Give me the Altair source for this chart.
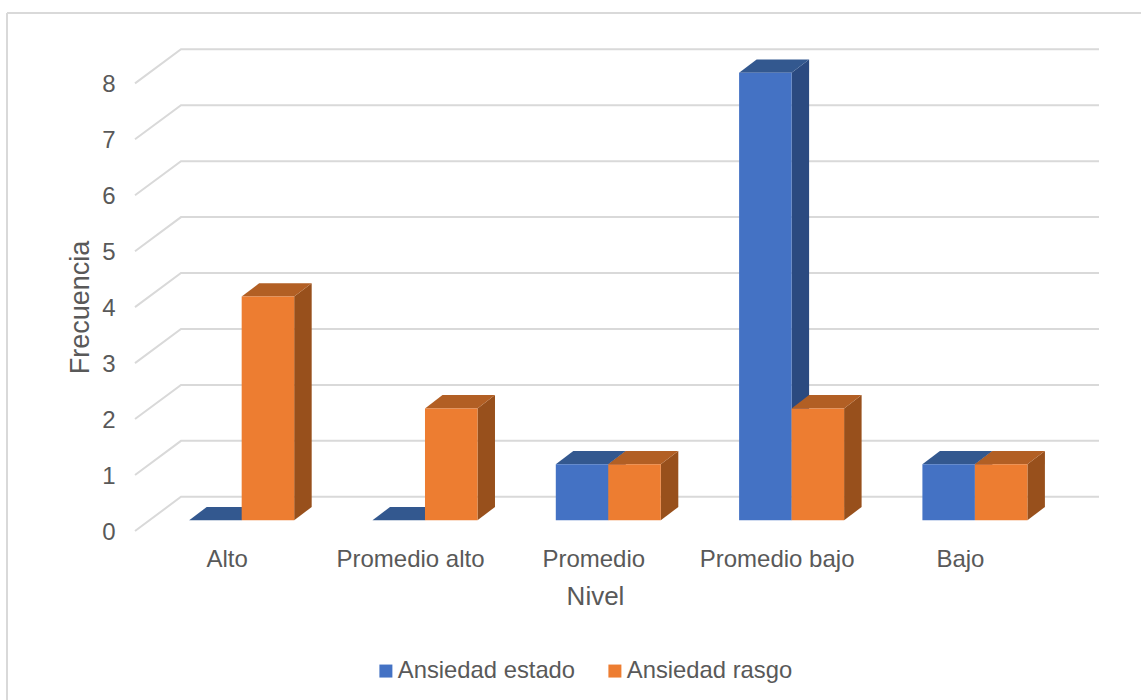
import altair as alt
import pandas as pd

# Survey results by level
niveles = ["Alto", "Promedio alto", "Promedio", "Promedio bajo", "Bajo"]
ansiedad_estado = [0, 0, 1, 8, 1]
ansiedad_rasgo = [4, 2, 1, 2, 1]
series = ["Ansiedad estado", "Ansiedad rasgo"]
niveles_y = [0, 1, 2, 3, 4, 5, 6, 7, 8]

FRONT = ["#4472C4", "#ED7D31"]
TOP = ["#33588F", "#B25F24"]
SIDE = ["#2B4A80", "#98501C"]
GRID = "#D9D9D9"
TEXT = "#595959"
FONT = "Liberation Sans"

# Oblique projection of the bars, expressed in axis units
BAR_W = 0.2864
DEPTH_X = 0.0955
DEPTH_Y = 0.238
WALL_Y = 0.42
WALL_X = -0.331
FLOOR_Y = -0.19

x_domain = [-0.582, 4.677]
x_scale = alt.Scale(domain=x_domain, nice=False, zero=False)
y_scale = alt.Scale(domain=[-0.191, 8.585], nice=False, zero=False)
color_scale = alt.Scale(domain=series, range=FRONT)

label_expr = "[" + ",".join(f"'{n}'" for n in niveles) + "][datum.value]"

x_axis = alt.Axis(
    values=list(range(len(niveles))),
    labelExpr=label_expr,
    title="Nivel",
    grid=False,
    domain=False,
    ticks=False,
    labelFont=FONT,
    labelFontSize=24,
    labelColor=TEXT,
    labelPadding=16,
    labelOffset=-15,
    labelFlush=False,
    labelOverlap=False,
    labelLimit=300,
    titleFont=FONT,
    titleFontSize=26,
    titleFontWeight="normal",
    titleColor=TEXT,
    titleX=460,
    titleY=65,
    titleBaseline="middle",
)
y_axis = alt.Axis(
    values=niveles_y,
    title="Frecuencia",
    grid=False,
    domain=False,
    ticks=False,
    labelFont=FONT,
    labelFontSize=24,
    labelColor=TEXT,
    labelPadding=20,
    labelOffset=12,
    labelBaseline="middle",
    titleFont=FONT,
    titleFontSize=27,
    titleFontWeight="normal",
    titleColor=TEXT,
    titleX=-55,
    titleY=267,
    titleAngle=270,
    titleBaseline="middle",
)
X = alt.X("x:Q", scale=x_scale, axis=x_axis)
Y = alt.Y("y:Q", scale=y_scale, axis=y_axis)


def faces(values, name, offset):
    front, side, top = [], [], []
    for i, v in enumerate(values):
        x0 = i + offset
        x1 = x0 + BAR_W
        front.append({"x": x0, "x2": x1, "y": v, "y2": 0, "serie": name})
        side.append({"id": i, "x": x1, "y": v, "y2": 0})
        side.append({"id": i, "x": x1 + DEPTH_X, "y": v + DEPTH_Y, "y2": DEPTH_Y})
        top.append({"id": i, "y": v, "x": x0, "x2": x1})
        top.append({"id": i, "y": v + DEPTH_Y, "x": x0 + DEPTH_X, "x2": x1 + DEPTH_X})
    return pd.DataFrame(front), pd.DataFrame(side), pd.DataFrame(top)


def bar_layers(values, k):
    front, side, top = faces(values, series[k], BAR_W * (k - 1))
    side_layer = alt.Chart(side).mark_area(orient="vertical", color=SIDE[k]).encode(
        x=X, y=Y, y2="y2:Q", detail="id:N"
    )
    top_layer = alt.Chart(top).mark_area(orient="horizontal", color=TOP[k]).encode(
        y=Y, x=X, x2="x2:Q", detail="id:N"
    )
    front_layer = alt.Chart(front).mark_rect().encode(
        x=X,
        x2="x2:Q",
        y=Y,
        y2="y2:Q",
        color=alt.Color(
            "serie:N",
            scale=color_scale,
            legend=alt.Legend(
                title=None,
                orient="none",
                legendX=239,
                legendY=619,
                direction="horizontal",
                symbolType="square",
                symbolSize=169,
                symbolStrokeWidth=0,
                labelFont=FONT,
                labelFontSize=23.8,
                labelColor=TEXT,
                labelOffset=0,
                columnPadding=27,
                labelLimit=300,
            ),
        ),
    )
    return [side_layer, top_layer, front_layer]


# Floor diagonals and back-wall lines, one polyline per axis level
grid_rows = []
for v in niveles_y:
    grid_rows.append({"nivel": v, "x": x_domain[0], "y": v + FLOOR_Y})
    grid_rows.append({"nivel": v, "x": WALL_X, "y": v + WALL_Y})
    grid_rows.append({"nivel": v, "x": x_domain[1], "y": v + WALL_Y})

grid = alt.Chart(pd.DataFrame(grid_rows)).mark_line(color=GRID, strokeWidth=2).encode(
    x=X, y=Y, detail="nivel:N"
)

# Outer frame: only its top and left edges fall inside the page
anchor = pd.DataFrame({"a": [0]})
frame_top = alt.Chart(anchor).mark_rule(color=GRID, strokeWidth=2).encode(
    x=alt.value(-128), x2=alt.value(1006), y=alt.value(-27)
)
frame_left = alt.Chart(anchor).mark_rule(color=GRID, strokeWidth=2).encode(
    x=alt.value(-128), y=alt.value(-27), y2=alt.value(660)
)

chart = alt.layer(
    frame_top,
    frame_left,
    grid,
    *bar_layers(ansiedad_estado, 0),
    *bar_layers(ansiedad_rasgo, 1),
).properties(
    width=964,
    height=491,
    padding={"left": 135, "top": 40, "right": 42, "bottom": 169},
    autosize=alt.AutoSizeParams(type="none"),
    background="white",
).configure_view(stroke=None)

chart.save("out.html", embed_options={"renderer": "svg", "actions": False})
